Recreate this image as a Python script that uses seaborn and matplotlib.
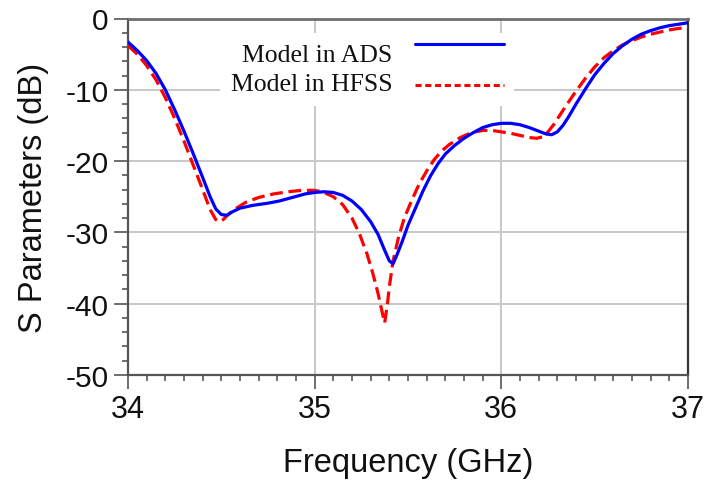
import numpy as np
import pandas as pd
import matplotlib
matplotlib.use("Agg")
import matplotlib.pyplot as plt
import seaborn as sns

# ---- data ----
ads_freq = [34.00, 34.05, 34.10, 34.15, 34.20, 34.25, 34.30, 34.35, 34.40, 34.44,
            34.47, 34.50, 34.53, 34.56, 34.60, 34.67, 34.75, 34.81, 34.88, 34.95,
            35.00, 35.05, 35.10, 35.15, 35.20, 35.25, 35.30, 35.34, 35.37, 35.40,
            35.42, 35.44, 35.47, 35.50, 35.54, 35.58, 35.62, 35.66, 35.70, 35.75,
            35.80, 35.85, 35.90, 35.95, 36.00, 36.05, 36.10, 36.15, 36.20, 36.24,
            36.27, 36.30, 36.33, 36.36, 36.40, 36.45, 36.50, 36.55, 36.60, 36.65,
            36.70, 36.75, 36.80, 36.85, 36.90, 36.95, 37.00]
ads_db = [-3.3, -4.5, -5.9, -7.7, -10.0, -12.8, -15.8, -19.0, -22.3, -25.0,
          -26.7, -27.5, -27.6, -27.1, -26.6, -26.2, -25.9, -25.6, -25.1, -24.6,
          -24.4, -24.3, -24.4, -24.8, -25.6, -26.8, -28.5, -30.3, -32.2, -34.0,
          -34.4, -33.2, -31.2, -29.0, -26.6, -24.2, -22.1, -20.4, -19.0, -17.8,
          -16.8, -16.0, -15.3, -14.9, -14.7, -14.7, -14.9, -15.3, -15.8, -16.2,
          -16.3, -15.9, -15.0, -13.8, -12.0, -9.9, -7.9, -6.3, -4.9, -3.8,
          -2.9, -2.2, -1.7, -1.3, -1.0, -0.8, -0.6]

hfss_freq = [34.00, 34.05, 34.10, 34.15, 34.20, 34.25, 34.30, 34.35, 34.40, 34.44,
             34.47, 34.49, 34.51, 34.54, 34.58, 34.63, 34.70, 34.78, 34.86, 34.93,
             35.00, 35.05, 35.10, 35.15, 35.20, 35.24, 35.28, 35.31, 35.34, 35.36,
             35.375, 35.39, 35.40, 35.42, 35.45, 35.48, 35.52, 35.56, 35.60, 35.64,
             35.68, 35.72, 35.78, 35.84, 35.90, 35.95, 36.00, 36.05, 36.10, 36.15,
             36.19, 36.22, 36.25, 36.28, 36.31, 36.35, 36.40, 36.45, 36.50, 36.55,
             36.60, 36.65, 36.70, 36.75, 36.80, 36.85, 36.90, 36.95, 37.00]
hfss_db = [-3.8, -5.0, -6.6, -8.6, -11.1, -14.0, -17.2, -20.6, -24.0, -26.8,
           -28.2, -28.5, -28.2, -27.4, -26.6, -25.8, -25.1, -24.6, -24.3, -24.1,
           -24.1, -24.4, -25.0, -26.1, -28.0, -30.2, -33.0, -35.6, -38.6, -41.0,
           -42.7, -40.0, -37.6, -34.0, -30.6, -28.0, -25.5, -23.2, -21.4, -19.8,
           -18.6, -17.7, -16.7, -16.0, -15.7, -15.7, -15.9, -16.1, -16.4, -16.7,
           -16.8, -16.6, -15.9, -14.9, -13.7, -12.1, -10.2, -8.4, -6.8, -5.5,
           -4.5, -3.7, -3.1, -2.6, -2.2, -1.9, -1.6, -1.4, -1.2]

series_labels = ["Model in ADS", "Model in HFSS"]
x_ticks = [34, 35, 36, 37]
y_ticks = [0, -10, -20, -30, -40, -50]

df_ads = pd.DataFrame({"Frequency": ads_freq, "S": ads_db})
df_hfss = pd.DataFrame({"Frequency": hfss_freq, "S": hfss_db})

sns.set_theme(style="ticks")
plt.rcParams["font.family"] = ["Liberation Sans", "DejaVu Sans"]

fig = plt.figure(figsize=(7.05, 4.85), dpi=100)
ax = fig.add_axes([128 / 705, 1 - 376 / 485, (688 - 128) / 705, (376 - 19.5) / 485])

sns.lineplot(data=df_ads, x="Frequency", y="S", ax=ax, color="#0000FF",
             linewidth=2.3, label=series_labels[0], estimator=None, sort=False, zorder=4)
sns.lineplot(data=df_hfss, x="Frequency", y="S", ax=ax, color="#FF0000",
             linewidth=2.3, label=series_labels[1], estimator=None, sort=False, zorder=3)
ax.lines[0].set_solid_joinstyle("round")
ax.lines[1].set_dashes([4.0, 1.8])
ax.lines[1].set_dash_joinstyle("round")

ax.set_xlim(34, 37)
ax.set_ylim(-50, 0)
ax.set_xticks(x_ticks)
ax.set_yticks(y_ticks)
ax.set_xticklabels([str(t) for t in x_ticks])
ax.set_yticklabels([str(t) for t in y_ticks])
ax.xaxis.set_minor_locator(matplotlib.ticker.MultipleLocator(0.1))
ax.yaxis.set_minor_locator(matplotlib.ticker.MultipleLocator(2))

ax.grid(True, which="major", color="#c8c8c8", linewidth=1.4)
ax.set_axisbelow(True)

spine_col = "#555555"
for s in ["left", "bottom", "right"]:
    ax.spines[s].set_color(spine_col)
    ax.spines[s].set_linewidth(1.6)
ax.spines["top"].set_color("#6e6e6e")
ax.spines["top"].set_linewidth(2.0)
ax.spines["right"].set_color("#333333")

ax.tick_params(axis="both", which="major", direction="out", length=10, width=1.2,
               color=spine_col, labelsize=22, pad=4, labelcolor="#111111")
ax.tick_params(axis="y", which="major", labelsize=21.5)
ax.tick_params(axis="both", which="minor", direction="out", length=4.5, width=1.2,
               color=spine_col)
ax.tick_params(top=False, right=False, which="both")

ax.set_xlabel("Frequency (GHz)", fontsize=23.5, color="#111111", labelpad=16)
ax.set_ylabel("S Parameters (dB)", fontsize=23.5, color="#111111", labelpad=12)

leg = ax.legend(loc="upper left", bbox_to_anchor=(0.165, 0.96), markerfirst=False,
                frameon=True, fancybox=False, framealpha=1.0, edgecolor="white",
                facecolor="white", handlelength=3.45, handletextpad=0.9,
                labelspacing=0.25, borderpad=0.4, borderaxespad=0.0,
                prop={"family": ["Liberation Serif"], "size": 18.5})
leg.get_frame().set_linewidth(0)
for t in leg.get_texts():
    t.set_color("#111111")
for h in leg.get_lines():
    h.set_linewidth(2.2)
leg_lines = leg.get_lines()
leg_lines[1].set_dashes([2.0, 1.2])
# nudge handles to match reference placement (units: points inside the legend box)
leg_lines[0].set_ydata(np.asarray(leg_lines[0].get_ydata(), dtype=float) + 5.5)
leg_lines[1].set_ydata(np.asarray(leg_lines[1].get_ydata(), dtype=float) - 2.5)

fig.savefig("out.png", dpi=100)
